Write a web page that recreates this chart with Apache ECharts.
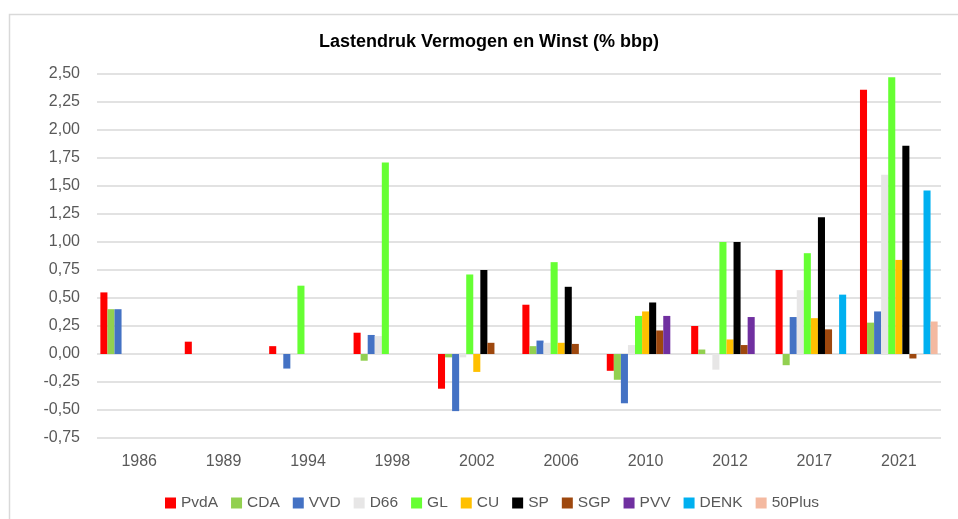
<!DOCTYPE html>
<html>
<head>
<meta charset="utf-8">
<script src="https://cdn.jsdelivr.net/npm/echarts@6/dist/echarts.min.js"></script>
<style>html,body{margin:0;padding:0;background:#fff}#c{width:958px;height:519px}</style>
</head>
<body>
<div id="c"></div>
<script>
const categories = ['1986','1989','1994','1998','2002','2006','2010','2012','2017','2021'];
const seriesNames = ['PvdA','CDA','VVD','D66','GL','CU','SP','SGP','PVV','DENK','50Plus'];
const colors = ['#FF0000','#92D050','#4472C4','#E7E6E6','#66FF33','#FFC000','#000000','#9E480E','#7030A0','#00B0F0','#F4B9A0'];
const PvdA  = [0.55, 0.11, 0.07, 0.19, -0.31, 0.44, -0.15, 0.25, 0.75, 2.36];
const CDA   = [0.40, null, null, -0.06, -0.03, 0.07, -0.23, 0.04, -0.10, 0.28];
const VVD   = [0.40, null, -0.13, 0.17, -0.51, 0.12, -0.44, null, 0.33, 0.38];
const D66   = [null, null, null, 0.16, -0.03, 0.10, 0.08, -0.14, 0.57, 1.60];
const GL    = [null, null, 0.61, 1.71, 0.71, 0.82, 0.34, 1.00, 0.90, 2.47];
const CU    = [null, null, null, null, -0.16, 0.10, 0.38, 0.13, 0.32, 0.84];
const SP    = [null, null, null, null, 0.75, 0.60, 0.46, 1.00, 1.22, 1.86];
const SGP   = [null, null, null, null, 0.10, 0.09, 0.21, 0.08, 0.22, -0.04];
const PVV   = [null, null, null, null, null, null, 0.34, 0.33, null, null];
const DENK  = [null, null, null, null, null, null, null, null, 0.53, 1.46];
const Plus50= [null, null, null, null, null, null, null, null, null, 0.29];
const yTicks = { min: -0.75, max: 2.5, interval: 0.25 };
const allData = [PvdA, CDA, VVD, D66, GL, CU, SP, SGP, PVV, DENK, Plus50];

const chart = echarts.init(document.getElementById('c'));
const font = 'Liberation Sans, Arial, sans-serif';
chart.setOption({
  animation: false,
  backgroundColor: '#fff',
  graphic: [{ type: 'rect', left: 7, top: 12, shape: { width: 980, height: 540 }, style: { fill: 'none', stroke: '#D9D9D9', lineWidth: 1.5 }, silent: true }],
  title: { text: 'Lastendruk Vermogen en Winst (% bbp)', top: 33, left: 489, textAlign: 'center', padding: 0,
    textStyle: { fontFamily: font, fontSize: 18, fontWeight: 'bold', color: '#000' } },
  grid: { left: 97, right: 17, top: 74, bottom: 81, containLabel: false },
  legend: {
    data: seriesNames, bottom: 3, left: 160, icon: 'rect', itemWidth: 11, itemHeight: 11, itemGap: 13,
    textStyle: { fontFamily: font, fontSize: 15.5, color: '#595959' }
  },
  xAxis: {
    type: 'category', data: categories, position: 'bottom',
    axisLine: { show: false, onZero: false }, axisTick: { show: false },
    axisLabel: { fontFamily: font, fontSize: 16, color: '#595959', margin: 16 }
  },
  yAxis: {
    type: 'value', min: yTicks.min, max: yTicks.max, interval: yTicks.interval,
    axisLine: { show: false }, axisTick: { show: false },
    splitLine: { lineStyle: { color: '#D9D9D9', width: 1.5 } },
    axisLabel: { fontFamily: font, fontSize: 16, color: '#595959', margin: 17,
      formatter: v => v.toFixed(2).replace('.', ',') }
  },
  series: seriesNames.map((n, i) => ({
    name: n, type: 'bar', data: allData[i], barGap: '0%', barCategoryGap: '8%',
    itemStyle: { color: colors[i] }
  }))
});
</script>
</body>
</html>
